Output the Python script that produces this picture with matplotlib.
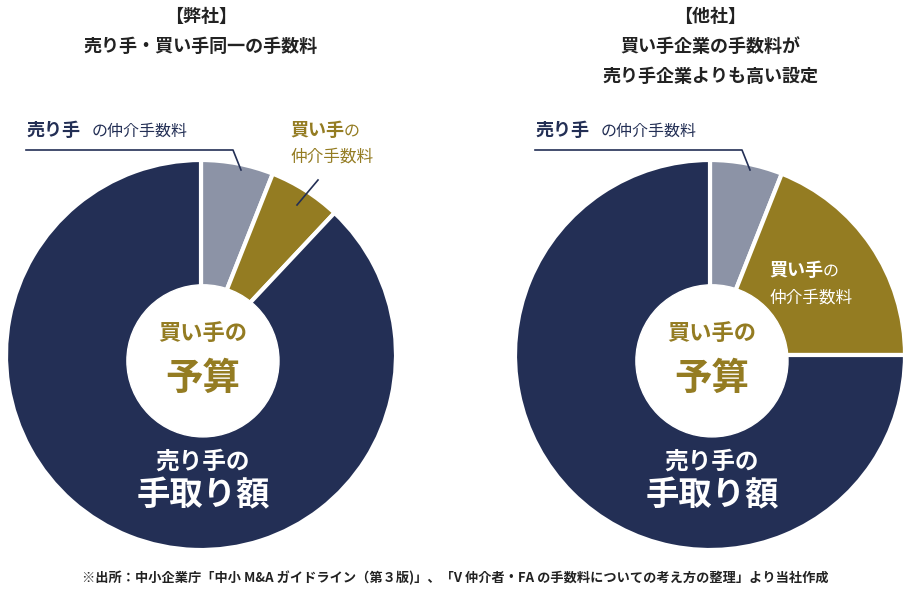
import matplotlib
matplotlib.use('Agg')
import matplotlib.pyplot as plt

plt.rcParams['font.family'] = ['Noto Sans CJK JP', 'DejaVu Sans']

NAVY = '#232f55'
GREY = '#8c93a6'
GOLD = '#947c22'

# shares in percent, clockwise from 12 o'clock: seller fee, buyer fee, seller take
left_shares = [6, 6, 88]
right_shares = [6, 19, 75]
colors = [GREY, GOLD, NAVY]

W, H = 910, 594
fig = plt.figure(figsize=(W / 100, H / 100), dpi=100)


def t(x, y, s, **kw):
    kw.setdefault('ha', 'center')
    kw.setdefault('va', 'center')
    kw.setdefault('fontweight', 'bold')
    fig.text(x / W, 1 - y / H, s, **kw)


def pie(cx, cy, r, shares):
    ax = fig.add_axes([(cx - r) / W, 1 - (cy + r) / H, 2 * r / W, 2 * r / H])
    ax.pie(shares, colors=colors, startangle=90, counterclock=False,
           wedgeprops=dict(edgecolor='white', linewidth=3))
    ax.add_patch(plt.Circle((0.01, -0.03), 0.39, color='white', zorder=5))
    ax.set_xlim(-1, 1)
    ax.set_ylim(-1, 1)
    ax.set_aspect('auto')
    ax.axis('off')


pie(201, 355, 195, left_shares)
pie(710, 355, 195, right_shares)

# titles
t(201, 16, '【弊社】', fontsize=13, color='#222')
t(201, 46, '売り手・買い手同一の手数料', fontsize=13, color='#222')
t(710, 16, '【他社】', fontsize=13, color='#222')
t(710, 46, '買い手企業の手数料が', fontsize=13, color='#222')
t(710, 76, '売り手企業よりも高い設定', fontsize=13, color='#222')

# center labels
for cx in (203, 712):
    t(cx, 333, '買い手の', fontsize=16, color=GOLD)
    t(cx, 378, '予算', fontsize=27, color=GOLD)
    t(cx, 462, '売り手の', fontsize=17, color='white')
    t(cx, 496, '手取り額', fontsize=24, color='white')

# outer callouts
for x0 in (26, 535):
    t(x0, 130, '売り手', fontsize=13, color=NAVY, ha='left')
    t(x0 + 66, 131, 'の仲介手数料', fontsize=11.5, color=NAVY, ha='left', fontweight='normal')
    fig.add_artist(plt.Line2D([x0 / W, (x0 + 207) / W, (x0 + 215) / W],
                              [1 - 150 / H, 1 - 150 / H, 1 - 170 / H],
                              color=NAVY, lw=1.2))
t(290, 130, '買い手', fontsize=13, color=GOLD, ha='left')
t(344, 131, 'の', fontsize=11.5, color=GOLD, ha='left', fontweight='normal')
t(290, 157, '仲介手数料', fontsize=12, color=GOLD, ha='left', fontweight='normal')
fig.add_artist(plt.Line2D([318 / W, 297 / W], [1 - 180 / H, 1 - 205 / H], color=NAVY, lw=1.2))

t(769, 270, '買い手', fontsize=13, color='white', ha='left')
t(823, 271, 'の', fontsize=11.5, color='white', ha='left', fontweight='normal')
t(769, 298, '仲介手数料', fontsize=12, color='white', ha='left', fontweight='normal')

t(455, 578, '※出所：中小企業庁「中小 M&A ガイドライン（第３版)」、「V 仲介者・FA の手数料についての考え方の整理」より当社作成',
  fontsize=9.5, color='#222')

fig.savefig('out.png', dpi=100, facecolor='white')
